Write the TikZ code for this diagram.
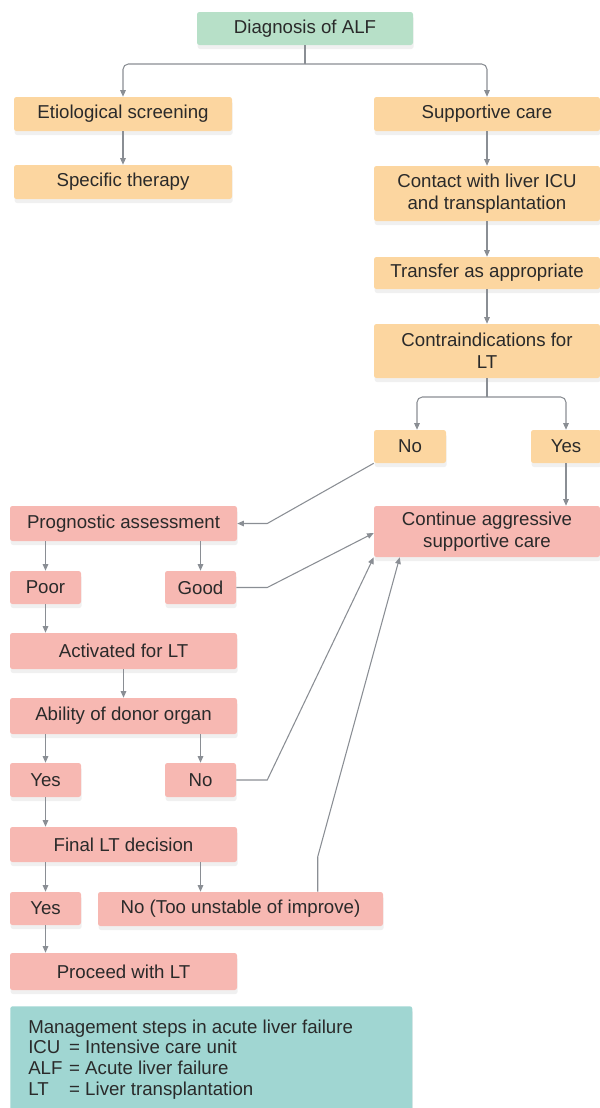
\documentclass[tikz,border=0pt]{standalone}
\usepackage{fontspec}
\setmainfont{Liberation Sans}
\usetikzlibrary{calc,arrows.meta,shadows}
\definecolor{orangebox}{HTML}{FCD6A0}
\definecolor{pinkbox}{HTML}{F7B8B2}
\definecolor{greenbox}{HTML}{B7E0C8}
\definecolor{tealbox}{HTML}{A0D6D2}
\definecolor{linec}{HTML}{8A8E94}
\definecolor{textc}{HTML}{2A2A2A}
\begin{document}
\begin{tikzpicture}[x=0.75pt,y=-0.75pt,
  bw/.style={minimum width=#1*0.75pt},
  bh/.style={minimum height=#1*0.75pt},
  box/.style={rounded corners=1.8pt, inner sep=0pt, align=center, text=textc,
    font=\fontsize{14}{16.5}\selectfont,
    drop shadow={shadow xshift=0.5pt,shadow yshift=-3pt,opacity=0.06,fill=black}},
  ob/.style={box, fill=orangebox},
  pb/.style={box, fill=pinkbox},
  gb/.style={box, fill=greenbox},
  line/.style={draw=linec, line width=0.8pt},
  conn/.style={line, -{Triangle[length=5pt,width=4.2pt]}},
]
\useasboundingbox (0,0) rectangle (600,1108);
% nodes
\node[gb,bw=216,bh=33] (diag) at (305,28.5) {Diagnosis of ALF};
\node[ob,bw=218,bh=34] (etio) at (123,114) {Etiological screening};
\node[ob,bw=218,bh=34] (spec) at (123,182) {Specific therapy};
\node[ob,bw=226,bh=34] (supp) at (487,114) {Supportive care};
\node[ob,bw=226,bh=55] (cont1) at (487,193.5) {Contact with liver ICU\\and transplantation};
\node[ob,bw=226,bh=32] (trans) at (487,273) {Transfer as appropriate};
\node[ob,bw=226,bh=54] (contra) at (487,351) {Contraindications for\\LT};
\node[ob,bw=72,bh=33] (noA) at (410,446.5) {No};
\node[ob,bw=70,bh=33] (yesA) at (566,446.5) {Yes};
\node[pb,bw=227,bh=35] (prog) at (123.5,523.5) {Prognostic assessment};
\node[pb,bw=226,bh=51] (cont) at (487,531.5) {Continue aggressive\\supportive care};
\node[pb,bw=71,bh=33] (poor) at (45.5,587.5) {Poor};
\node[pb,bw=71,bh=33] (good) at (200.5,587.5) {Good};
\node[pb,bw=227,bh=36] (act) at (123.5,651) {Activated for LT};
\node[pb,bw=227,bh=36] (abil) at (123.5,716) {Ability of donor organ};
\node[pb,bw=71,bh=34] (yesB) at (45.5,780) {Yes};
\node[pb,bw=71,bh=34] (noB) at (200.5,780) {No};
\node[pb,bw=227,bh=35] (final) at (123.5,844.5) {Final LT decision};
\node[pb,bw=71,bh=33] (yesC) at (45.5,908.5) {Yes};
\node[pb,bw=285,bh=34] (noC) at (240.5,909) {No (Too unstable of improve)};
\node[pb,bw=227,bh=37] (proc) at (123.5,971.5) {Proceed with LT};
% legend
\node[box, fill=tealbox, bw=402, bh=104, anchor=north west] (leg) at (10,1006) {};
\node[anchor=base west, inner sep=0pt, text=textc, font=\fontsize{14}{15.5}\selectfont] (legtext) at (28,1033)
  {\begin{tabular}[t]{@{}l@{\hspace{5pt}}l@{}}
   \multicolumn{2}{@{}l@{}}{Management steps in acute liver failure}\\
   ICU & = Intensive care unit\\
   ALF & = Acute liver failure\\
   LT & = Liver transplantation
   \end{tabular}};
% connectors
\coordinate (j1) at (305,64);
\draw[line] (diag.south) -- (j1);
\draw[conn, rounded corners=4pt] (j1) -| (etio.north);
\draw[conn, rounded corners=4pt] (j1) -| (supp.north);
\draw[conn] (etio) -- (spec);
\draw[conn] (supp) -- (cont1);
\draw[conn] (cont1) -- (trans);
\draw[conn] (trans) -- (contra);
\coordinate (j2) at (487,397);
\draw[line] (contra.south) -- (j2);
\draw[conn, rounded corners=4pt] (j2) -| ($(noA.north)+(7,0)$);
\draw[conn, rounded corners=4pt] (j2) -| (yesA.north);
\draw[conn] (yesA.south) -- (yesA.south |- cont.north);
\draw[conn] (noA.south west) -- ($(prog.east)+(30,0)$) -- (prog.east);
\draw[conn] (poor.north |- prog.south) -- (poor.north);
\draw[conn] (good.north |- prog.south) -- (good.north);
\draw[conn] (good.east) -- ++(31,0) -- ($(cont.west)+(0,1.5)$);
\draw[conn] (poor.south) -- (poor.south |- act.north);
\draw[conn] (act) -- (abil);
\draw[conn] (yesB.north |- abil.south) -- (yesB.north);
\draw[conn] (noB.north |- abil.south) -- (noB.north);
\draw[conn] (noB.east) -- ++(31,0) -- (cont.south west);
\draw[conn] (yesB.south) -- (yesB.south |- final.north);
\draw[conn] (yesC.north |- final.south) -- (yesC.north);
\draw[conn] (noB.south |- final.south) -- (noB.south |- noC.north);
\draw[conn] ($(noC.north west)+(220,0)$) -- ++(0,-35) -- ($(cont.south west)+(26,0)$);
\draw[conn] (yesC.south) -- (yesC.south |- proc.north);
\end{tikzpicture}
\end{document}
